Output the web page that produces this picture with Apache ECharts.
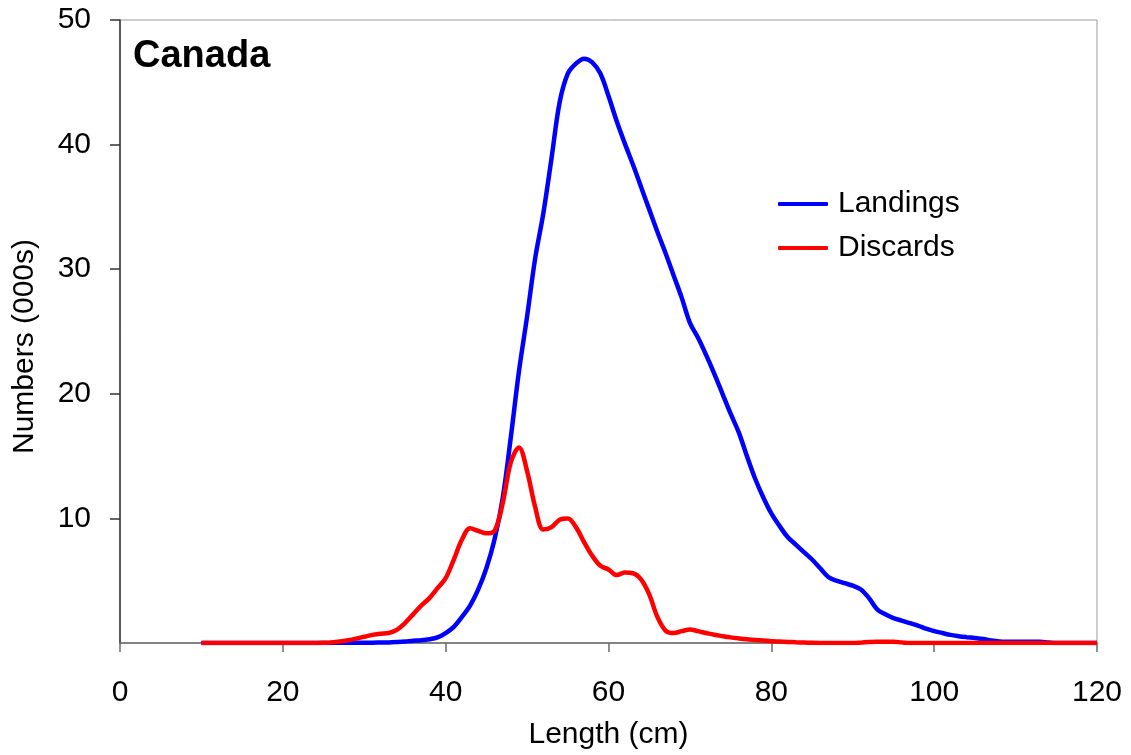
<!DOCTYPE html>
<html>
<head>
<meta charset="utf-8">
<script src="https://cdn.jsdelivr.net/npm/echarts@6/dist/echarts.min.js"></script>
<style>
  html, body { margin: 0; padding: 0; background: #fff; overflow: hidden; }
  #chart { width: 1131px; height: 755px; }
</style>
</head>
<body>
<div id="chart"></div>
<script>
// Length classes (cm)
const lengths = [
  10, 11, 12, 13, 14, 15, 16, 17, 18, 19, 20, 21, 22, 23, 24, 25, 26, 27, 28, 29,
  30, 31, 32, 33, 34, 35, 36, 37, 38, 39, 40, 41, 42, 43, 44, 45, 46, 47, 48, 49,
  50, 51, 52, 53, 54, 55, 56, 57, 58, 59, 60, 61, 62, 63, 64, 65, 66, 67, 68, 69,
  70, 71, 72, 73, 74, 75, 76, 77, 78, 79, 80, 81, 82, 83, 84, 85, 86, 87, 88, 89,
  90, 91, 92, 93, 94, 95, 96, 97, 98, 99, 100, 101, 102, 103, 104, 105, 106, 107, 108, 109,
  110, 111, 112, 113, 114, 115, 116, 117, 118, 119, 120
];

// Numbers at length (000s)
const landings = [
  0, 0, 0, 0, 0, 0, 0, 0, 0, 0, 0, 0, 0, 0, 0, 0.01, 0.01, 0.02, 0.02, 0.02,
  0.03, 0.03, 0.04, 0.05, 0.08, 0.12, 0.18, 0.22, 0.3, 0.45, 0.8, 1.3, 2.1, 3.0, 4.3, 6.0, 8.3, 11.6, 16.5, 21.8,
  26.2, 30.9, 34.5, 38.9, 43.4, 45.7, 46.5, 46.9, 46.6, 45.7, 43.9, 41.9, 40.1, 38.4, 36.6, 34.8, 33.0, 31.3, 29.5, 27.7,
  25.7, 24.5, 23.1, 21.6, 20.0, 18.4, 16.9, 15.0, 13.2, 11.7, 10.4, 9.4, 8.5, 7.9, 7.3, 6.7, 6.0, 5.3, 5.0, 4.8,
  4.6, 4.3, 3.6, 2.7, 2.3, 2.0, 1.8, 1.6, 1.4, 1.15, 0.95, 0.8, 0.65, 0.55, 0.47, 0.4, 0.32, 0.2, 0.12, 0.1,
  0.1, 0.1, 0.1, 0.1, 0.05, 0, 0, 0, 0, 0, 0
];

const discards = [
  0, 0, 0, 0, 0, 0, 0, 0, 0, 0, 0, 0, 0, 0, 0, 0.02, 0.05, 0.12, 0.22, 0.35,
  0.5, 0.65, 0.75, 0.8, 1.05, 1.6, 2.3, 3.0, 3.6, 4.4, 5.2, 6.7, 8.3, 9.2, 9.0, 8.8, 9.0, 11.2, 14.5, 15.7,
  13.8, 10.9, 9.1, 9.3, 9.9, 10.0, 9.3, 8.1, 7.0, 6.2, 5.9, 5.45, 5.65, 5.6, 5.1, 3.9, 2.1, 1.0, 0.8, 0.95,
  1.08, 0.95, 0.8, 0.66, 0.55, 0.45, 0.37, 0.3, 0.25, 0.2, 0.15, 0.12, 0.09, 0.06, 0.04, 0.02, 0.01, 0.01, 0, 0,
  0, 0.03, 0.08, 0.1, 0.1, 0.1, 0.05, 0, 0, 0, 0, 0, 0, 0, 0, 0, 0, 0, 0, 0,
  0, 0, 0, 0, 0, 0, 0, 0, 0, 0, 0
];

const xTicks = [0, 20, 40, 60, 80, 100, 120];
const yTicks = [0, 10, 20, 30, 40, 50];

const FONT = '"Liberation Sans", Arial, sans-serif';

const pair = (vals) => lengths.map((l, i) => [l, vals[i]]);

const chart = echarts.init(document.getElementById('chart'), null, { renderer: 'canvas' });

chart.setOption({
  animation: false,
  backgroundColor: '#ffffff',
  textStyle: { fontFamily: FONT, color: '#000' },
  title: {
    text: 'Canada',
    left: 128,
    top: 33,
    textStyle: { fontFamily: FONT, fontSize: 38, fontWeight: 'bold', color: '#000' }
  },
  legend: {
    orient: 'vertical',
    left: 778,
    top: 189,
    padding: 0,
    icon: 'roundRect',
    itemWidth: 50,
    itemHeight: 4,
    itemGap: 14,
    textStyle: { fontFamily: FONT, fontSize: 30, color: '#000', padding: [0, 0, 0, 5] },
    data: ['Landings', 'Discards']
  },
  grid: {
    left: 120,
    top: 20,
    width: 977,
    height: 628,
    show: true,
    borderColor: '#9a9a9a',
    borderWidth: 1,
    containLabel: false
  },
  xAxis: {
    type: 'value',
    min: xTicks[0],
    max: xTicks[xTicks.length - 1],
    interval: 20,
    name: 'Length (cm)',
    nameLocation: 'middle',
    nameGap: 77,
    nameTextStyle: { fontFamily: FONT, fontSize: 30, color: '#000' },
    axisLine: { show: true, onZero: false, lineStyle: { color: '#6a6a6a', width: 1.5 } },
    axisTick: { show: true, length: 9, lineStyle: { color: '#6a6a6a', width: 1.5 } },
    axisLabel: { fontFamily: FONT, fontSize: 30, color: '#000', margin: 35 },
    splitLine: { show: false }
  },
  yAxis: {
    type: 'value',
    min: yTicks[0],
    max: yTicks[yTicks.length - 1],
    interval: 10,
    name: 'Numbers (000s)',
    nameLocation: 'middle',
    nameGap: 80,
    nameTextStyle: { fontFamily: FONT, fontSize: 30, color: '#000', padding: [0, 30, 0, 0] },
    axisLine: { show: true, lineStyle: { color: '#333', width: 1.5 } },
    axisTick: { show: true, length: 10, lineStyle: { color: '#333', width: 1.5 } },
    axisLabel: { fontFamily: FONT, fontSize: 30, color: '#000', margin: 29, showMinLabel: false },
    splitLine: { show: false }
  },
  series: [
    {
      name: 'Landings',
      type: 'line',
      data: pair(landings),
      smooth: 0.35,
      symbol: 'none',
      color: '#0000ff',
      lineStyle: { color: '#0000ff', width: 4.5 }
    },
    {
      name: 'Discards',
      type: 'line',
      data: pair(discards),
      smooth: 0.35,
      symbol: 'none',
      color: '#ff0000',
      lineStyle: { color: '#ff0000', width: 4.5 }
    }
  ]
});
</script>
</body>
</html>
